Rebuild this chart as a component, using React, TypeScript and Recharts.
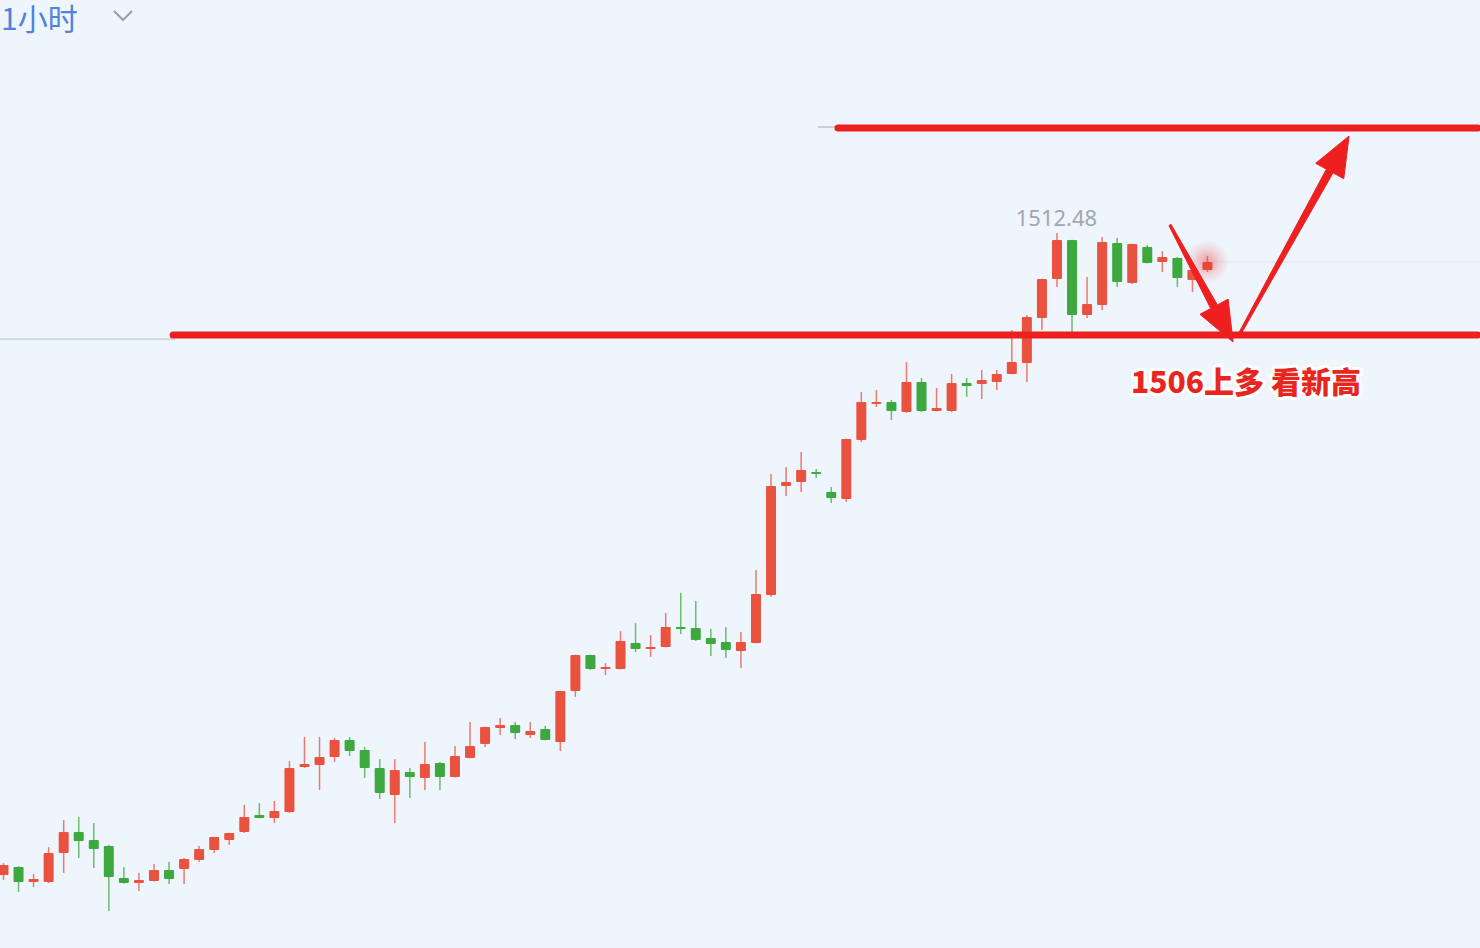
import React from "react";
import { ComposedChart, Bar, XAxis, YAxis, ReferenceLine, ReferenceDot } from "recharts";

const idx = Array.from({ length: 81 }, (_, i) => i);

const opens = [
  1472.35, 1472.85, 1471.92, 1471.92, 1473.73, 1475.04, 1474.54, 1474.17, 1472.17, 1471.85,
  1471.98, 1472.67, 1472.73, 1473.29, 1473.92, 1474.54, 1475.04, 1476.1, 1475.92, 1476.29,
  1479.1, 1479.23, 1479.73, 1480.79, 1480.17, 1479.04, 1477.35, 1478.79, 1478.42, 1479.35,
  1478.48, 1479.67, 1480.54, 1481.54, 1481.73, 1481.1, 1481.48, 1480.67, 1483.85, 1486.1,
  1485.23, 1485.23, 1486.85, 1486.48, 1486.6, 1487.85, 1487.79, 1487.17, 1486.92, 1486.35,
  1486.85, 1489.85, 1496.67, 1496.92, 1497.54, 1496.29, 1495.85, 1499.54, 1501.79, 1501.92,
  1501.29, 1503.17, 1501.35, 1501.35, 1503.1, 1503.04, 1503.17, 1503.67, 1504.35, 1507.17,
  1509.6, 1512.04, 1507.35, 1507.98, 1511.85, 1509.35, 1511.6, 1510.67, 1510.92, 1509.54, 1510.17,
];

const highs = [
  1473.1, 1472.9, 1472.42, 1474.1, 1475.79, 1475.98, 1475.6, 1474.25, 1472.85, 1472.48,
  1473.04, 1473.17, 1473.42, 1474.17, 1474.75, 1475.0, 1476.73, 1476.85, 1476.98, 1479.48,
  1480.98, 1480.98, 1480.92, 1480.98, 1480.35, 1479.6, 1479.6, 1479.04, 1480.67, 1479.42,
  1480.42, 1481.92, 1481.62, 1482.17, 1481.92, 1481.92, 1481.67, 1483.87, 1486.12, 1486.12,
  1485.6, 1487.6, 1488.1, 1487.35, 1488.73, 1489.98, 1489.48, 1487.73, 1487.85, 1487.54,
  1491.42, 1497.42, 1497.85, 1498.79, 1497.73, 1496.6, 1499.62, 1502.54, 1502.67, 1502.04,
  1504.42, 1503.42, 1502.79, 1503.67, 1503.42, 1503.92, 1503.92, 1506.42, 1507.35, 1509.62,
  1512.48, 1512.06, 1509.73, 1512.23, 1512.17, 1511.81, 1511.73, 1511.35, 1510.98, 1510.48, 1511.04,
];

const lows = [
  1472.04, 1471.29, 1471.6, 1471.85, 1472.48, 1473.42, 1472.79, 1470.1, 1471.8, 1471.35,
  1471.95, 1471.79, 1471.79, 1473.17, 1473.73, 1474.23, 1474.98, 1475.9, 1475.6, 1476.23,
  1479.04, 1477.67, 1479.42, 1479.79, 1478.42, 1477.1, 1475.6, 1477.17, 1477.67, 1477.67,
  1478.45, 1479.65, 1480.35, 1481.1, 1480.85, 1480.92, 1480.77, 1480.1, 1483.48, 1485.17,
  1484.85, 1485.21, 1486.29, 1485.98, 1486.58, 1487.42, 1486.98, 1486.04, 1485.92, 1485.29,
  1486.83, 1489.73, 1496.04, 1496.29, 1497.17, 1495.6, 1495.67, 1499.42, 1501.6, 1500.79,
  1501.23, 1501.29, 1501.33, 1501.29, 1502.23, 1502.1, 1502.67, 1503.65, 1503.17, 1506.42,
  1509.1, 1506.29, 1507.17, 1507.67, 1509.1, 1509.29, 1510.58, 1510.04, 1509.1, 1508.79, 1510.04,
];

const closes = [
  1472.98, 1471.92, 1472.1, 1473.73, 1475.04, 1474.48, 1473.98, 1472.23, 1471.85, 1472.04,
  1472.67, 1472.1, 1473.35, 1473.98, 1474.73, 1474.98, 1475.98, 1475.92, 1476.35, 1479.04,
  1479.29, 1479.73, 1480.79, 1480.1, 1479.04, 1477.48, 1478.92, 1478.48, 1479.29, 1478.48,
  1479.79, 1480.42, 1481.6, 1481.73, 1481.23, 1481.35, 1480.79, 1483.85, 1486.1, 1485.23,
  1485.35, 1486.98, 1486.48, 1486.6, 1487.85, 1487.73, 1487.04, 1486.79, 1486.42, 1486.92,
  1489.92, 1496.67, 1496.92, 1497.67, 1497.42, 1495.92, 1499.6, 1501.92, 1501.92, 1501.35,
  1503.17, 1501.35, 1501.54, 1503.1, 1502.92, 1503.29, 1503.67, 1504.42, 1507.23, 1509.6,
  1512.04, 1507.35, 1508.04, 1511.92, 1509.42, 1511.79, 1510.6, 1510.98, 1509.67, 1510.17, 1510.67,
];

// annotation levels
const supportLevel = 1506.1;
const targetLevel = 1519.04;
const highLabel = "1512.48";
const noteText = "1506上多 看新高";
const periodLabel = "1小时";

const Y_DOMAIN: [number, number] = [1467.79, 1527.04];
const X_DOMAIN: [number, number] = [-0.2, 98.14];

const UP = "#E9523F";
const DOWN = "#3DA83D";
const LINE_RED = "#EE1F1F";

const data = idx.map((i) => ({
  i,
  open: opens[i],
  high: highs[i],
  low: lows[i],
  close: closes[i],
}));

const Candle = (props: any) => {
  const { x, y, width, height, payload } = props;
  if (!payload) return null;
  const { open, close, high, low } = payload;
  const top = Math.min(y, y + height);
  const span = Math.abs(height);
  const ratio = span / (high - low);
  const yOf = (p: number) => top + (high - p) * ratio;
  const up = close >= open;
  const color = up ? UP : DOWN;
  const bTop = yOf(Math.max(open, close));
  let bBot = yOf(Math.min(open, close));
  let bt = bTop;
  if (bBot - bt < 2) {
    const m = (bBot + bt) / 2;
    bt = m - 1;
    bBot = m + 1;
  }
  const cx = x + width / 2;
  return (
    <g>
      <line x1={cx} x2={cx} y1={top} y2={top + span} stroke={color} strokeOpacity={0.75} strokeWidth={1.5} />
      <rect x={x} y={bt} width={width} height={bBot - bt} fill={color} rx={1} />
    </g>
  );
};

const Arrow = (props: any) => {
  const { x1, y1, x2, y2 } = props;
  if ([x1, y1, x2, y2].some((v) => typeof v !== "number" || isNaN(v))) return null;
  const dx = x2 - x1;
  const dy = y2 - y1;
  const len = Math.hypot(dx, dy);
  const ux = dx / len;
  const uy = dy / len;
  const nx = -uy;
  const ny = ux;
  const headLen = 40;
  const headW = 16;
  const tailW = 1.2;
  const shaftW = 3.8;
  const bx = x2 - ux * headLen;
  const by = y2 - uy * headLen;
  const pts = [
    [x1 + nx * tailW, y1 + ny * tailW],
    [bx + nx * shaftW, by + ny * shaftW],
    [bx + nx * headW, by + ny * headW],
    [x2, y2],
    [bx - nx * headW, by - ny * headW],
    [bx - nx * shaftW, by - ny * shaftW],
    [x1 - nx * tailW, y1 - ny * tailW],
  ]
    .map((p) => p.join(","))
    .join(" ");
  return <polygon points={pts} fill={LINE_RED} stroke={LINE_RED} strokeWidth={1} strokeLinejoin="round" />;
};

const HighText = (props: any) => (
  <text
    x={props.cx}
    y={props.cy - 7}
    textAnchor="middle"
    fontSize={22}
    fill="#A3A6AE"
    fontFamily="'Noto Sans', 'DejaVu Sans', sans-serif"
  >
    {highLabel}
  </text>
);

const NoteText = (props: any) => (
  <text
    x={props.cx}
    y={props.cy}
    textAnchor="middle"
    dominantBaseline="central"
    fontSize={30}
    fontWeight={900}
    fill="#E8261E"
    stroke="#FFFFFF"
    strokeWidth={6}
    strokeLinejoin="round"
    style={{ paintOrder: "stroke" }}
    fontFamily="'Noto Sans CJK SC', sans-serif"
  >
    {noteText}
  </text>
);

const Glow = (props: any) => (
  <g>
    <defs>
      <radialGradient id="lastGlow">
        <stop offset="0%" stopColor="#F03030" stopOpacity={0.45} />
        <stop offset="60%" stopColor="#F03030" stopOpacity={0.15} />
        <stop offset="100%" stopColor="#F03030" stopOpacity={0} />
      </radialGradient>
    </defs>
    <circle cx={props.cx} cy={props.cy} r={22} fill="url(#lastGlow)" />
  </g>
);

const Thick = (props: any) => {
  const { x1, y1, x2, y2 } = props;
  return (
    <line x1={x1} y1={y1} x2={x2} y2={y2} stroke={LINE_RED} strokeWidth={7} strokeLinecap="round" />
  );
};

export default function App() {
  return (
    <div
      style={{
        position: "absolute",
        left: 0,
        top: 0,
        width: 1480,
        height: 948,
        background: "#EEF5FD",
        overflow: "hidden",
      }}
    >
      <div
        style={{
          position: "absolute",
          left: 1,
          top: 2,
          fontSize: 30,
          lineHeight: "30px",
          color: "#4E84DD",
          fontFamily: "'Noto Sans CJK SC', sans-serif",
          whiteSpace: "nowrap",
        }}
      >
        {periodLabel}
      </div>
      <svg style={{ position: "absolute", left: 110, top: 6 }} width={28} height={20}>
        <polyline points="4,5 13,14 22,5" fill="none" stroke="#9AA0AA" strokeWidth={2} />
      </svg>
      <div style={{ position: "absolute", left: 0, top: 0 }}>
        <ComposedChart width={1480} height={948} data={data} margin={{ top: 0, right: 0, bottom: 0, left: 0 }}>
          <XAxis type="number" dataKey="i" domain={X_DOMAIN} allowDataOverflow hide />
          <YAxis type="number" domain={Y_DOMAIN} allowDataOverflow hide />
          <ReferenceLine
            segment={[
              { x: -0.2, y: 1505.85 },
              { x: 11.43, y: 1505.85 },
            ]}
            stroke="#B4BED3"
            strokeWidth={1}
            ifOverflow="visible"
          />
          <ReferenceLine
            segment={[
              { x: 80.3, y: closes[80] },
              { x: 98.14, y: closes[80] },
            ]}
            stroke="#DCE3EE"
            strokeWidth={1}
            ifOverflow="visible"
          />
          <ReferenceLine
            segment={[
              { x: 54.15, y: 1519.1 },
              { x: 55.48, y: 1519.1 },
            ]}
            stroke="#BFC4CC"
            strokeWidth={1.5}
            ifOverflow="visible"
          />
          <ReferenceDot x={80} y={closes[80]} r={22} shape={Glow} ifOverflow="visible" />
          <Bar
            dataKey={(d: any) => [d.low, d.high]}
            barSize={10}
            shape={Candle}
            isAnimationActive={false}
          />
          <ReferenceLine
            segment={[
              { x: 11.3, y: supportLevel },
              { x: 98.0, y: supportLevel },
            ]}
            shape={Thick}
            ifOverflow="visible"
          />
          <ReferenceLine
            segment={[
              { x: 55.48, y: targetLevel },
              { x: 98.0, y: targetLevel },
            ]}
            shape={Thick}
            ifOverflow="visible"
          />
          <ReferenceLine
            segment={[
              { x: 77.54, y: 1512.98 },
              { x: 81.73, y: 1505.67 },
            ]}
            shape={Arrow}
            ifOverflow="visible"
          />
          <ReferenceLine
            segment={[
              { x: 82.06, y: 1505.98 },
              { x: 89.44, y: 1518.54 },
            ]}
            shape={Arrow}
            ifOverflow="visible"
          />
          <ReferenceDot x={70} y={1512.48} r={1} shape={HighText} ifOverflow="visible" />
          <ReferenceDot x={82.59} y={1503.29} r={1} shape={NoteText} ifOverflow="visible" />
        </ComposedChart>
      </div>
    </div>
  );
}
